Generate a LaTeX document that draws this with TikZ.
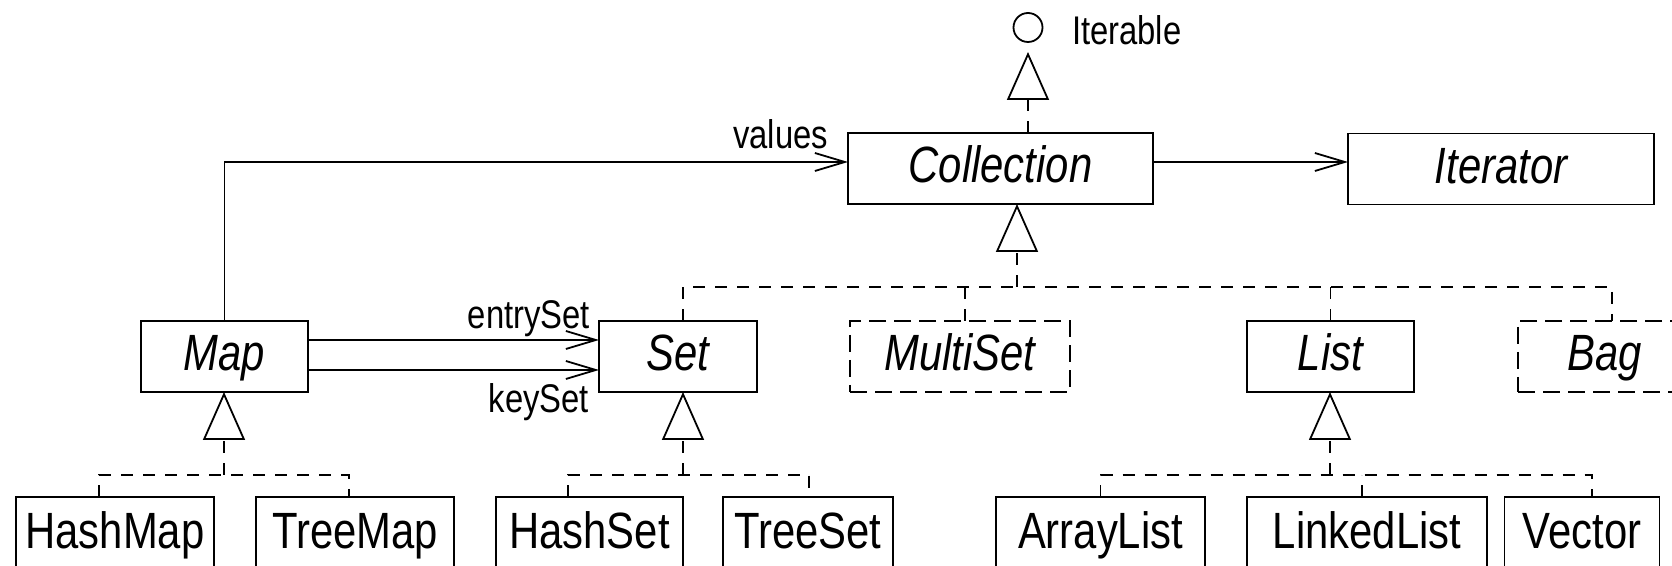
\documentclass[tikz,border=0pt]{standalone}
\usepackage{fontspec}
\setmainfont{Liberation Sans}[FakeStretch=0.82]
\usetikzlibrary{arrows.meta,calc}

\begin{document}
\begin{tikzpicture}[x=0.5pt,y=0.5pt,
  every node/.style={inner sep=0pt, outer sep=0pt},
  box/.style={draw, line width=0.9pt, minimum height=35.5pt,
    font=\fontsize{25.5pt}{30pt}\selectfont, text height=19pt, text depth=4.6pt},
  abstract/.style={box, font=\fontsize{25.5pt}{30pt}\selectfont\itshape},
  optional/.style={abstract, dash pattern=on 8.5pt off 4pt},
  leaf/.style={box, anchor=north, minimum height=37.5pt},
  lbl/.style={font=\fontsize{20pt}{24pt}\selectfont},
  realize/.style={line width=0.9pt, dash pattern=on 6pt off 5pt},
  gen/.style={realize, -{Triangle[open, length=24pt, width=21pt]}},
  assoc/.style={line width=0.9pt, -{Straight Barb[length=15pt, width=9pt]}}
]
\useasboundingbox (0,0) rectangle (1672,-566);

% interface lollipop
\node[circle, draw, line width=0.9pt, minimum size=14.5pt] (iterable) at (1028,-27.5) {};
\node[lbl, anchor=base west] (iterable-lbl) at (1072,-45) {Iterable};

% top row
\node[abstract, minimum width=152.5pt] (coll) at (1000.5,-168.5) {Collection};
\node[abstract, minimum width=153pt] (iter) at (1501,-169) {Iterator};

% middle row
\node[abstract, minimum width=83.5pt] (map) at (224.5,-356.5) {Map};
\node[abstract, minimum width=79pt] (set) at (678,-356.5) {Set};
\node[optional, minimum width=110pt] (multiset) at (960,-356.5) {MultiSet};
\node[abstract, minimum width=83.5pt] (list) at (1330.5,-356.5) {List};
\node[optional, minimum width=87pt] (bag) at (1605,-356.5) {Bag};

% concrete classes
\node[leaf, minimum width=99pt] (hashmap) at (115,-497) {HashMap};
\node[leaf, minimum width=99pt] (treemap) at (355,-497) {TreeMap};
\node[leaf, minimum width=93.5pt] (hashset) at (589.5,-497) {HashSet};
\node[leaf, minimum width=85pt] (treeset) at (808,-497) {TreeSet};
\node[leaf, minimum width=104.5pt] (arraylist) at (1100.5,-497) {ArrayList};
\node[leaf, minimum width=120pt] (linkedlist) at (1367,-497) {LinkedList};
\node[leaf, minimum width=77.5pt] (vector) at (1582,-497) {Vector};

% Collection extends Iterable
\draw[gen, shorten >=5pt] (iterable |- coll.north) -- (iterable.south);

% associations
\node[lbl, anchor=base east] (values) at ($(coll.west)+(-20,19.5)$) {values};
\draw[assoc] (map.north) |- ($(coll.west)+(0,6.5)$);
\coordinate (c-out) at ($(coll.east)+(0,6.5)$);
\draw[assoc] (c-out) -- (c-out -| iter.west);
\coordinate (m-e) at ($(map.east)+(0,16.5)$);
\coordinate (m-k) at ($(map.east)+(0,-13.5)$);
\draw[assoc] (m-e) -- (m-e -| set.west);
\draw[assoc] (m-k) -- (m-k -| set.west);
\node[lbl, anchor=base east] (entryset) at (590,-329) {entrySet};
\node[lbl, anchor=base east] (keyset) at (589,-413) {keySet};

% Collection subtypes
\coordinate (collj) at (1017,-287);
\coordinate (set-b) at ($(set.north)+(5,0)$);
\coordinate (ms-b) at ($(multiset.north)+(5,0)$);
\coordinate (bag-b) at ($(bag.north)+(7,0)$);
\draw[realize] (set-b) |- (collj) -| (bag-b);
\draw[realize] (ms-b) -- (ms-b |- collj);
\draw[realize] (list.north) -- (list.north |- collj);
\draw[gen] (collj) -- (collj |- coll.south);

% Map implementations
\coordinate (mapj) at (224,-475);
\draw[realize] ($(hashmap.north)+(-16,0)$) |- (mapj) -| ($(treemap.north)+(-6,0)$);
\draw[gen] (mapj) -- (mapj |- map.south);

% Set implementations
\coordinate (setj) at (683,-475);
\draw[realize] ($(hashset.north)+(-21.5,0)$) |- (setj) -| ($(treeset.north)+(1,0)$);
\draw[gen] (setj) -- (setj |- set.south);

% List implementations
\coordinate (listj) at (1330,-475);
\coordinate (ll-b) at ($(linkedlist.north)+(-5,0)$);
\draw[realize] (arraylist.north) |- (listj) -| ($(vector.north)+(10,0)$);
\draw[realize] (ll-b) -- (ll-b |- listj);
\draw[gen] (listj) -- (listj |- list.south);
\end{tikzpicture}
\end{document}
